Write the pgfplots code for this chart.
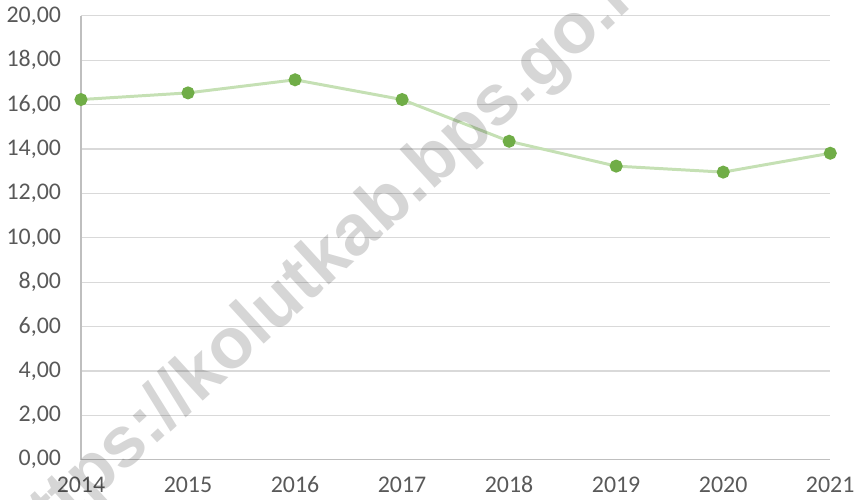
\documentclass[border=0pt]{standalone}
\usepackage{fontspec}
\setmainfont{Carlito}
\newfontfamily\wmfont{Liberation Sans}
\usepackage{pgfplots}
\pgfplotsset{compat=1.18}

\definecolor{gridgray}{RGB}{217,217,217}
\definecolor{axisgray}{RGB}{191,191,191}
\definecolor{labelgray}{RGB}{89,89,89}
\definecolor{linegreen}{RGB}{197,224,180}
\definecolor{markgreen}{RGB}{112,173,71}

\begin{document}
\begin{tikzpicture}[x=1pt,y=1pt]
\begin{axis}[
    scale only axis,
    width=376.5pt, height=223pt,
    xmin=2014, xmax=2021,
    ymin=0, ymax=20,
    xtick={2014,...,2021},
    ytick={0,2,...,20},
    axis x line*=bottom,
    axis y line*=left,
    axis line style={axisgray, line width=0.8pt},
    ymajorgrids,
    grid style={gridgray, line width=0.6pt},
    major tick length=0pt,
    tick label style={font=\fontsize{12}{13}\selectfont, text=labelgray},
    xticklabel style={yshift=-5pt, /pgf/number format/.cd, assume math mode=true, 1000 sep={}},
    yticklabel style={xshift=-6.5pt, /pgf/number format/.cd, assume math mode=true, fixed, fixed zerofill, precision=2, use comma},
    clip=false,
]
\addplot[color=linegreen, line width=1.5pt, mark=*, mark size=2.5pt,
    mark options={fill=markgreen, draw=markgreen}] coordinates {
    (2014,16.23) (2015,16.53) (2016,17.12) (2017,16.23)
    (2018,14.35) (2019,13.23) (2020,12.96) (2021,13.81)
};
\node[overlay, rotate=42.5, text=black, opacity=0.16, font=\wmfont\bfseries\fontsize{36}{38}\selectfont]
    at (rel axis cs:0.335,0.455) {https://kolutkab.bps.go.id};
\end{axis}
\end{tikzpicture}
\end{document}
